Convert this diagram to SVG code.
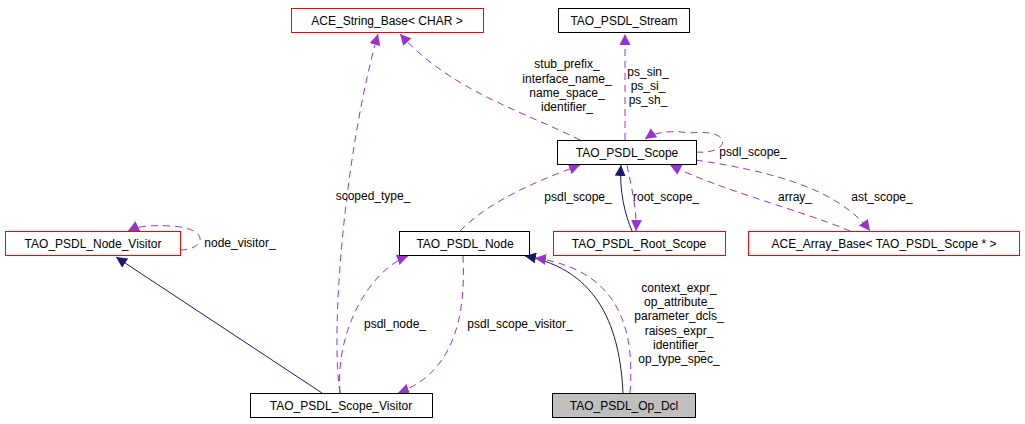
<svg xmlns="http://www.w3.org/2000/svg" width="1025" height="424" viewBox="0 0 1025 424">
<style>
.n rect{fill:#fff;stroke:#000;stroke-width:1}
.n.r rect{stroke:#f00}
.n.g rect{fill:#bfbfbf}
text{font-family:"Liberation Sans",Arial,sans-serif;font-size:12px;fill:#000}
.n text{text-anchor:middle}
.d{fill:none;stroke:#9a32cd;stroke-dasharray:7,5}
.s{fill:none;stroke:#191970}
.c{text-anchor:middle}
</style>
<defs>
<marker id="p" viewBox="0 0 10 10" refX="10" refY="5" markerWidth="11" markerHeight="11" markerUnits="userSpaceOnUse" orient="auto"><path d="M0,0L10,5L0,10z" fill="#9a32cd"/></marker>
<marker id="b" viewBox="0 0 10 10" refX="10" refY="5" markerWidth="11" markerHeight="11" markerUnits="userSpaceOnUse" orient="auto"><path d="M0,0L10,5L0,10z" fill="#191970"/></marker>
</defs>
<rect width="1025" height="424" fill="#fff"/>
<g id="connectors">
<path class="d" marker-end="url(#p)" d="M340,393 C330,330 345,150 378,34"/>
<path class="d" marker-end="url(#p)" d="M580,140 C520,110 450,90 400,34"/>
<path class="d" marker-end="url(#p)" d="M625,140 L625,34"/>
<path class="d" marker-end="url(#p)" d="M696,152 C730,155 735,128 690,133 C670,130 655,132 645,139"/>
<path class="d" marker-end="url(#p)" d="M460,231 C490,200 540,180 580,165"/>
<path class="s" marker-end="url(#b)" d="M632,231 C625,215 619,190 621,165"/>
<path class="d" marker-end="url(#p)" d="M627,165 C632,190 637,210 636,231"/>
<path class="d" marker-end="url(#p)" d="M850,231 C800,210 720,190 670,165"/>
<path class="d" marker-end="url(#p)" d="M696,160 C760,170 835,185 870,231"/>
<path class="d" marker-end="url(#p)" d="M180,250 C205,250 212,228 170,226 C150,225 138,226 128,231"/>
<path class="s" marker-end="url(#b)" d="M322,393 L116,257"/>
<path class="d" marker-end="url(#p)" d="M340,393 C335,330 370,270 408,256"/>
<path class="d" marker-end="url(#p)" d="M463,256 C465,300 462,370 398,393"/>
<path class="s" marker-end="url(#b)" d="M623,393 C620,330 600,270 525,256"/>
<path class="d" marker-end="url(#p)" d="M630,393 C635,330 620,270 535,258"/>
</g>
<g id="labels">
<text x="373" y="200" class="c">scoped_type_</text>
<text x="567" y="68" class="c">stub_prefix_</text>
<text x="567" y="83" class="c">interface_name_</text>
<text x="567" y="97" class="c">name_space_</text>
<text x="567" y="111" class="c">identifier_</text>
<text x="648" y="76" class="c">ps_sin_</text>
<text x="648" y="90" class="c">ps_si_</text>
<text x="648" y="104" class="c">ps_sh_</text>
<text x="753" y="156" class="c">psdl_scope_</text>
<text x="578" y="201" class="c">psdl_scope_</text>
<text x="666" y="201" class="c">root_scope_</text>
<text x="795" y="201" class="c">array_</text>
<text x="882" y="201" class="c">ast_scope_</text>
<text x="240" y="247" class="c">node_visitor_</text>
<text x="395" y="328" class="c">psdl_node_</text>
<text x="520" y="328" class="c">psdl_scope_visitor_</text>
<text x="679" y="292" class="c">context_expr_</text>
<text x="679" y="306" class="c">op_attribute_</text>
<text x="679" y="320" class="c">parameter_dcls_</text>
<text x="679" y="335" class="c">raises_expr_</text>
<text x="679" y="349" class="c">identifier_</text>
<text x="679" y="363" class="c">op_type_spec_</text>
</g>
<g id="ace_string_base" class="n r"><rect x="291.5" y="8.5" width="192" height="24"/><text x="387" y="25">ACE_String_Base&lt; CHAR &gt;</text></g>
<g id="tao_psdl_stream" class="n"><rect x="558.5" y="8.5" width="131" height="24"/><text x="624" y="25">TAO_PSDL_Stream</text></g>
<g id="tao_psdl_scope" class="n"><rect x="557.5" y="140.5" width="139" height="24"/><text x="627" y="157">TAO_PSDL_Scope</text></g>
<g id="tao_psdl_node_visitor" class="n r"><rect x="5.5" y="231.5" width="175" height="24"/><text x="93" y="248">TAO_PSDL_Node_Visitor</text></g>
<g id="tao_psdl_node" class="n"><rect x="399.5" y="231.5" width="130" height="24"/><text x="465" y="248">TAO_PSDL_Node</text></g>
<g id="tao_psdl_root_scope" class="n r"><rect x="553.5" y="231.5" width="172" height="24"/><text x="639" y="248">TAO_PSDL_Root_Scope</text></g>
<g id="ace_array_base" class="n r"><rect x="748.5" y="231.5" width="271" height="24"/><text x="884" y="248">ACE_Array_Base&lt; TAO_PSDL_Scope * &gt;</text></g>
<g id="tao_psdl_scope_visitor" class="n"><rect x="250.5" y="393.5" width="182" height="24"/><text x="341" y="410">TAO_PSDL_Scope_Visitor</text></g>
<g id="tao_psdl_op_dcl" class="n g"><rect x="552.5" y="393.5" width="143" height="24"/><text x="624" y="410">TAO_PSDL_Op_Dcl</text></g>
</svg>
